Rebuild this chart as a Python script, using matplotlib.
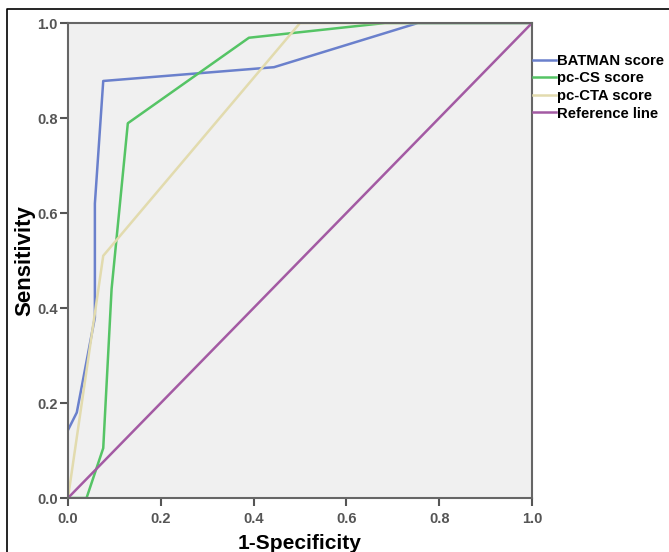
import matplotlib
matplotlib.use("Agg")
import matplotlib.pyplot as plt
from matplotlib.lines import Line2D

plt.rcParams["font.family"] = ["Liberation Sans", "DejaVu Sans"]

# ROC curve points
batman_x = [0.0, 0.019, 0.058, 0.058, 0.076, 0.444, 0.754, 1.0]
batman_y = [0.143, 0.18, 0.38, 0.62, 0.878, 0.907, 1.0, 1.0]

pccs_x = [0.0, 0.04, 0.076, 0.094, 0.129, 0.39, 0.683, 1.0]
pccs_y = [0.0, 0.0, 0.105, 0.44, 0.789, 0.969, 1.0, 1.0]

pccta_x = [0.0, 0.076, 0.5, 1.0]
pccta_y = [0.0, 0.51, 1.0, 1.0]

ref_x = [0.0, 1.0]
ref_y = [0.0, 1.0]

labels = ["BATMAN score", "pc-CS score", "pc-CTA score", "Reference line"]
colors = ["#6a80cc", "#55c465", "#e2dbae", "#a35aa3"]

fig = plt.figure(figsize=(6.69, 5.52), dpi=100)
ax = fig.add_axes([0.1016, 0.0978, 0.6936, 0.8605])
ax.set_facecolor("#f0f0f0")

series = [(batman_x, batman_y), (pccs_x, pccs_y), (pccta_x, pccta_y), (ref_x, ref_y)]
for (xs, ys), lab, c in zip(series, labels, colors):
    ax.plot(xs, ys, color=c, lw=1.8, label=lab)

ax.set_xlim(0, 1)
ax.set_ylim(0, 1)
ticks = [0.0, 0.2, 0.4, 0.6, 0.8, 1.0]
ax.set_xticks(ticks)
ax.set_yticks(ticks)
ax.set_xticklabels([f"{t:.1f}" for t in ticks])
ax.set_yticklabels([f"{t:.1f}" for t in ticks])
ax.tick_params(direction="out", length=6, width=1.5, color="#555555",
               labelcolor="#555555", labelsize=10.5)
ax.tick_params(axis="y", pad=1.5)
ax.tick_params(axis="x", pad=4)
for lab in ax.get_xticklabels() + ax.get_yticklabels():
    lab.set_fontweight("bold")
for s in ax.spines.values():
    s.set_color("#666666")
    s.set_linewidth(1.5)

ax.set_xlabel("1-Specificity", fontsize=15, fontweight="bold")
ax.set_ylabel("Sensitivity", fontsize=16, fontweight="bold")
ax.xaxis.set_label_coords(0.5, -0.076)
ax.yaxis.set_label_coords(-0.071, 0.5)

leg = ax.legend(loc="upper left", bbox_to_anchor=(1.002, 0.935), frameon=False,
                handlelength=1.55, handletextpad=0.1, labelspacing=0.24,
                borderaxespad=0, borderpad=0, prop={"weight": "bold", "size": 10.7})

# outer frame (left and top edges only)
fig.add_artist(Line2D([7 / 669, 7 / 669, 1.0], [0.0, 1 - 9 / 552, 1 - 9 / 552],
                      transform=fig.transFigure, color="black", lw=1.2))

fig.savefig("out.png", dpi=100)
